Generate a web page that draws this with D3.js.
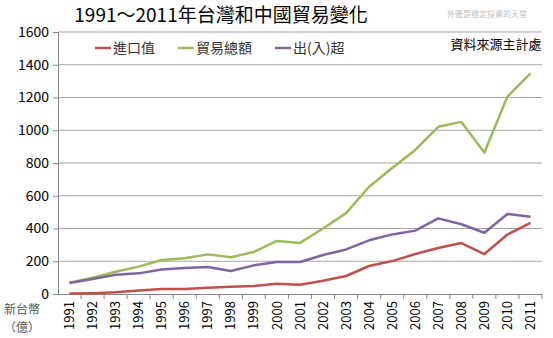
<!DOCTYPE html>
<html>
<head>
<meta charset="utf-8">
<script src="https://cdn.jsdelivr.net/npm/d3@7"></script>
<style>
  body { margin: 0; background: #fff; }
  text { font-family: "Noto Sans CJK TC", "Liberation Sans", sans-serif; }
</style>
</head>
<body>
<div id="chart"></div>
<script>
// chart data
const years = ["1991","1992","1993","1994","1995","1996","1997","1998","1999","2000",
    "2001","2002","2003","2004","2005","2006","2007","2008","2009","2010","2011"];
const imports = [3, 5, 10, 22, 30, 30, 38, 45, 49, 63, 57, 81, 110, 171, 201, 244, 281, 311, 244, 363, 435];
const totalTrade = [69, 100, 136, 167, 208, 218, 242, 224, 257, 324, 312, 400, 494, 655, 770, 880, 1021, 1051, 864, 1206, 1347];
const balance = [67, 92, 118, 126, 149, 159, 165, 140, 175, 195, 195, 238, 272, 328, 364, 387, 462, 426, 374, 489, 472];
const yTicks = [0, 200, 400, 600, 800, 1000, 1200, 1400, 1600];

const series = [
    { name: "進口值", values: imports, color: "#c0504d" },
    { name: "貿易總額", values: totalTrade, color: "#9bbb59" },
    { name: "出(入)超", values: balance, color: "#8064a2" }
];

const svgWidth = 553;
const svgHeight = 338;
const margin = { top: 32, right: 11, bottom: 44, left: 58 };
const width = svgWidth - margin.left - margin.right;
const height = svgHeight - margin.top - margin.bottom;

const svg = d3.select("#chart")
    .append("svg")
    .attr("width", svgWidth)
    .attr("height", svgHeight);

const chartGroup = svg.append("g")
    .attr("transform", `translate(${margin.left}, ${margin.top})`);

// scales
const xScale = d3.scaleBand()
    .domain(years)
    .range([0, width]);

const yScale = d3.scaleLinear()
    .domain([0, 1600])
    .range([height, 0]);

// gridlines
chartGroup.append("g")
    .selectAll("line")
    .data(yTicks.slice(1))
    .enter()
    .append("line")
    .attr("x1", 0)
    .attr("x2", width)
    .attr("y1", d => yScale(d))
    .attr("y2", d => yScale(d))
    .attr("stroke", "#a6a6a6")
    .attr("stroke-width", 1);

// y axis
const leftAxis = d3.axisLeft(yScale)
    .tickValues(yTicks)
    .tickFormat(d3.format("d"))
    .tickSize(5)
    .tickPadding(4);

const yAxis = chartGroup.append("g")
    .call(leftAxis);
yAxis.select(".domain").attr("stroke", "#868686");
yAxis.selectAll(".tick line").attr("stroke", "#868686");
yAxis.selectAll("text")
    .attr("font-family", "Liberation Sans, Arial, sans-serif")
    .attr("font-size", "14px")
    .attr("fill", "#000");

// x axis, ticks between categories
const bottomAxis = d3.axisBottom(xScale).tickSize(0).tickPadding(6);
const xAxis = chartGroup.append("g")
    .attr("transform", `translate(0, ${height})`)
    .call(bottomAxis);
xAxis.select(".domain").attr("stroke", "#868686");
xAxis.selectAll("text")
    .attr("font-family", "Liberation Sans, Arial, sans-serif")
    .attr("font-size", "13px")
    .attr("fill", "#000")
    .attr("transform", "rotate(-90)")
    .attr("text-anchor", "end")
    .attr("x", -7)
    .attr("y", 0)
    .attr("dy", "0.35em");

xAxis.append("g")
    .selectAll("line")
    .data(years)
    .enter()
    .append("line")
    .attr("x1", d => xScale(d) + xScale.bandwidth())
    .attr("x2", d => xScale(d) + xScale.bandwidth())
    .attr("y1", 0)
    .attr("y2", 5)
    .attr("stroke", "#868686");

// lines
const line = d3.line()
    .x((d, i) => xScale(years[i]) + xScale.bandwidth() / 2)
    .y(d => yScale(d));

chartGroup.selectAll(".series")
    .data(series)
    .enter()
    .append("path")
    .attr("class", "series")
    .attr("d", d => line(d.values))
    .attr("fill", "none")
    .attr("stroke", d => d.color)
    .attr("stroke-width", 2.5)
    .attr("stroke-linejoin", "round");

// title
svg.append("text")
    .attr("x", 221)
    .attr("y", 22)
    .attr("text-anchor", "middle")
    .attr("font-size", "19px")
    .attr("fill", "#000")
    .text("1991～2011年台灣和中國貿易變化");

svg.append("text")
    .attr("x", 487)
    .attr("y", 17)
    .attr("text-anchor", "middle")
    .attr("font-size", "8px")
    .attr("fill", "#c0c0c0")
    .text("外匯是穩定投資的天堂");

svg.append("text")
    .attr("x", 496)
    .attr("y", 49)
    .attr("text-anchor", "middle")
    .attr("font-size", "13px")
    .attr("fill", "#000")
    .text("資料來源主計處");

// legend
const legendX = [95, 178, 275];
const legend = svg.selectAll(".legend")
    .data(series)
    .enter()
    .append("g")
    .attr("class", "legend")
    .attr("transform", (d, i) => `translate(${legendX[i]}, 48)`);

legend.append("line")
    .attr("x1", 0)
    .attr("x2", 16)
    .attr("y1", 0)
    .attr("y2", 0)
    .attr("stroke", d => d.color)
    .attr("stroke-width", 2.5);

legend.append("text")
    .attr("x", 18)
    .attr("y", 5)
    .attr("font-size", "14px")
    .attr("fill", "#333")
    .text(d => d.name);

// y axis unit
svg.append("text")
    .attr("x", 22)
    .attr("y", 314)
    .attr("text-anchor", "middle")
    .attr("font-size", "12px")
    .attr("fill", "#555")
    .text("新台幣");

svg.append("text")
    .attr("x", 22)
    .attr("y", 332)
    .attr("text-anchor", "middle")
    .attr("font-size", "12px")
    .attr("fill", "#555")
    .text("（億）");
</script>
</body>
</html>
